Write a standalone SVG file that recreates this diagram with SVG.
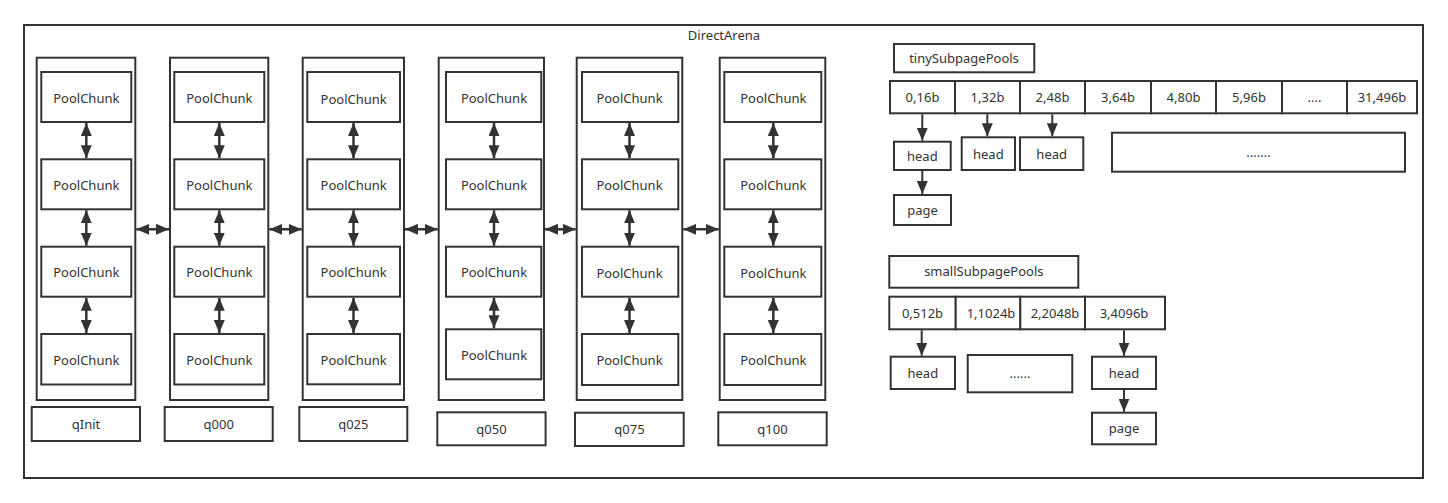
<svg xmlns="http://www.w3.org/2000/svg" width="1448" height="503" viewBox="0 0 1448 503">
<style>
.b{fill:#fff;stroke:#333;stroke-width:2}
.c{fill:none;stroke:#333;stroke-width:2}
.t{font-family:"Noto Sans","Open Sans","DejaVu Sans",sans-serif;font-size:13px;fill:#333;text-anchor:middle}
.dbl{stroke:#333;stroke-width:2.5;fill:none;marker-start:url(#ah);marker-end:url(#ah)}
.one{stroke:#333;stroke-width:2;fill:none;marker-end:url(#ah)}
</style>
<defs>
<marker id="ah" markerUnits="userSpaceOnUse" markerWidth="13" markerHeight="11" refX="13" refY="5.5" orient="auto-start-reverse"><path d="M0,0 L13,5.5 L0,11 z" fill="#333"/></marker>
</defs>
<rect width="1448" height="503" fill="#fff"/>
<g id="frame">
<rect class="c" x="24" y="25" width="1399" height="453"/>
<text class="t" x="724" y="39.5">DirectArena</text>
</g>
<g id="qInit">
<rect class="c" x="36.7" y="57.7" width="98.6" height="342.3"/>
<rect class="b" x="41.3" y="72" width="90" height="50"/><text class="t" x="86.3" y="102.5">PoolChunk</text>
<rect class="b" x="41.3" y="159.3" width="90" height="50"/><text class="t" x="86.3" y="189.5">PoolChunk</text>
<rect class="b" x="41.3" y="246.7" width="90" height="50"/><text class="t" x="86.3" y="277">PoolChunk</text>
<rect class="b" x="41.3" y="334" width="90" height="50.5"/><text class="t" x="86.3" y="364.5">PoolChunk</text>
<rect class="b" x="31.7" y="407" width="108.3" height="34"/><text class="t" x="86" y="428.5">qInit</text>
</g>
<g id="q000">
<rect class="c" x="170" y="57.7" width="98.3" height="342.3"/>
<rect class="b" x="174.3" y="72" width="90" height="50"/><text class="t" x="219.3" y="102.5">PoolChunk</text>
<rect class="b" x="174.3" y="159.3" width="90" height="50"/><text class="t" x="219.3" y="189.5">PoolChunk</text>
<rect class="b" x="174.3" y="246.7" width="90" height="50"/><text class="t" x="219.3" y="277">PoolChunk</text>
<rect class="b" x="174.3" y="334" width="90" height="50.5"/><text class="t" x="219.3" y="364.5">PoolChunk</text>
<rect class="b" x="164.7" y="407" width="108" height="34"/><text class="t" x="218.7" y="428.5">q000</text>
</g>
<g id="q025">
<rect class="c" x="302.7" y="57.7" width="101.3" height="342.3"/>
<rect class="b" x="307.3" y="72" width="92.7" height="50"/><text class="t" x="353.7" y="103.5">PoolChunk</text>
<rect class="b" x="307.3" y="159.3" width="92.7" height="50"/><text class="t" x="353.7" y="189.5">PoolChunk</text>
<rect class="b" x="307.3" y="246.7" width="92.7" height="50"/><text class="t" x="353.7" y="277">PoolChunk</text>
<rect class="b" x="307.3" y="334" width="92.7" height="50.3"/><text class="t" x="353.7" y="364.5">PoolChunk</text>
<rect class="b" x="299.3" y="407" width="108" height="34"/><text class="t" x="353.3" y="428.5">q025</text>
</g>
<g id="q050">
<rect class="c" x="438.7" y="57.7" width="105.3" height="342.3"/>
<rect class="b" x="446" y="72" width="95.3" height="50"/><text class="t" x="494" y="103">PoolChunk</text>
<rect class="b" x="446" y="159.3" width="95.3" height="50"/><text class="t" x="494" y="189.5">PoolChunk</text>
<rect class="b" x="446" y="246.7" width="95.3" height="50"/><text class="t" x="494" y="277">PoolChunk</text>
<rect class="b" x="446" y="329.3" width="95.3" height="50"/><text class="t" x="494" y="360">PoolChunk</text>
<rect class="b" x="437.3" y="412.3" width="108.3" height="33"/><text class="t" x="491.5" y="433.5">q050</text>
</g>
<g id="q075">
<rect class="c" x="576.7" y="57.7" width="105.6" height="342.3"/>
<rect class="b" x="582" y="72" width="96.3" height="50"/><text class="t" x="629.5" y="103">PoolChunk</text>
<rect class="b" x="582" y="159.3" width="96.3" height="50"/><text class="t" x="629.5" y="189.5">PoolChunk</text>
<rect class="b" x="582" y="246.7" width="96.3" height="50"/><text class="t" x="629.5" y="277.5">PoolChunk</text>
<rect class="b" x="582" y="334" width="96.3" height="51"/><text class="t" x="629.5" y="365">PoolChunk</text>
<rect class="b" x="575" y="412.7" width="108.7" height="33.3"/><text class="t" x="629.5" y="434">q075</text>
</g>
<g id="q100">
<rect class="c" x="719.7" y="57.7" width="105.6" height="342.3"/>
<rect class="b" x="724.3" y="72" width="97" height="50"/><text class="t" x="773.3" y="103">PoolChunk</text>
<rect class="b" x="724.3" y="159.3" width="97" height="50"/><text class="t" x="773.3" y="189.5">PoolChunk</text>
<rect class="b" x="724.3" y="246.7" width="97" height="50"/><text class="t" x="773.3" y="277.5">PoolChunk</text>
<rect class="b" x="724.3" y="334" width="97" height="51"/><text class="t" x="773.3" y="365">PoolChunk</text>
<rect class="b" x="718.3" y="412.3" width="108.4" height="33"/><text class="t" x="772.5" y="433.5">q100</text>
</g>
<g id="tinySubpagePools">
<rect class="b" x="894" y="44" width="140.3" height="28.3"/><text class="t" x="964" y="63">tinySubpagePools</text>
<rect class="b" x="890" y="81" width="65" height="32.3"/><text class="t" x="922.5" y="101.5">0,16b</text>
<rect class="b" x="955" y="81" width="65" height="32.3"/><text class="t" x="987.5" y="101.5">1,32b</text>
<rect class="b" x="1020" y="81" width="65" height="32.3"/><text class="t" x="1052.5" y="101.5">2,48b</text>
<rect class="b" x="1085" y="81" width="66" height="32.3"/><text class="t" x="1118" y="101.5">3,64b</text>
<rect class="b" x="1151" y="81" width="65" height="32.3"/><text class="t" x="1183.5" y="101.5">4,80b</text>
<rect class="b" x="1216" y="81" width="66" height="32.3"/><text class="t" x="1249" y="101.5">5,96b</text>
<rect class="b" x="1282" y="81" width="65" height="32.3"/><text class="t" x="1314.5" y="101.5">....</text>
<rect class="b" x="1347" y="81" width="70" height="32.3"/><text class="t" x="1382" y="101.5">31,496b</text>
</g>
<g id="tinyHead0"><rect class="b" x="894" y="141.7" width="56.7" height="28.3"/><text class="t" x="922.3" y="160.5">head</text></g>
<g id="tinyHead1"><rect class="b" x="961.7" y="137.3" width="53.3" height="32.7"/><text class="t" x="988.3" y="158.5">head</text></g>
<g id="tinyHead2"><rect class="b" x="1020" y="137.3" width="63.3" height="32.7"/><text class="t" x="1051.7" y="158.5">head</text></g>
<g id="tinyMore"><rect class="b" x="1112" y="132.7" width="293" height="39"/><text class="t" x="1258.5" y="156.5">.......</text></g>
<g id="tinyPage"><rect class="b" x="894" y="195" width="57" height="30"/><text class="t" x="922.5" y="214.5">page</text></g>
<g id="smallSubpagePools">
<rect class="b" x="889.3" y="256" width="189" height="31.7"/><text class="t" x="983.8" y="276">smallSubpagePools</text>
<rect class="b" x="889.3" y="296.7" width="66.4" height="32.6"/><text class="t" x="922.5" y="317.5">0,512b</text>
<rect class="b" x="955.7" y="296.7" width="64.6" height="32.6"/><text class="t" x="991" y="317.5">1,1024b</text>
<rect class="b" x="1020.3" y="296.7" width="64.7" height="32.6"/><text class="t" x="1055" y="317.5">2,2048b</text>
<rect class="b" x="1085" y="296.7" width="80" height="32.6"/><text class="t" x="1124" y="317.5">3,4096b</text>
</g>
<g id="smallHead0"><rect class="b" x="890.7" y="356.7" width="64.3" height="32.3"/><text class="t" x="922.8" y="377.5">head</text></g>
<g id="smallMore"><rect class="b" x="967.7" y="355" width="104.6" height="37.3"/><text class="t" x="1020" y="378">......</text></g>
<g id="smallHead3"><rect class="b" x="1092" y="356.7" width="64" height="32.3"/><text class="t" x="1124" y="377.5">head</text></g>
<g id="smallPage"><rect class="b" x="1092" y="412.7" width="64" height="31.6"/><text class="t" x="1124" y="433">page</text></g>
<g id="connectors">
<line class="dbl" x1="86.3" y1="123" x2="86.3" y2="158.3"/>
<line class="dbl" x1="86.3" y1="210.3" x2="86.3" y2="245.7"/>
<line class="dbl" x1="86.3" y1="297.7" x2="86.3" y2="333"/>
<line class="dbl" x1="219.3" y1="123" x2="219.3" y2="158.3"/>
<line class="dbl" x1="219.3" y1="210.3" x2="219.3" y2="245.7"/>
<line class="dbl" x1="219.3" y1="297.7" x2="219.3" y2="333"/>
<line class="dbl" x1="353.5" y1="123" x2="353.5" y2="158.3"/>
<line class="dbl" x1="353.5" y1="210.3" x2="353.5" y2="245.7"/>
<line class="dbl" x1="353.5" y1="297.7" x2="353.5" y2="333"/>
<line class="dbl" x1="494" y1="123" x2="494" y2="158.3"/>
<line class="dbl" x1="494" y1="210.3" x2="494" y2="245.7"/>
<line class="dbl" x1="494" y1="297.7" x2="494" y2="328.3"/>
<line class="dbl" x1="629.5" y1="123" x2="629.5" y2="158.3"/>
<line class="dbl" x1="629.5" y1="210.3" x2="629.5" y2="245.7"/>
<line class="dbl" x1="629.5" y1="297.7" x2="629.5" y2="333"/>
<line class="dbl" x1="773.3" y1="123" x2="773.3" y2="158.3"/>
<line class="dbl" x1="773.3" y1="210.3" x2="773.3" y2="245.7"/>
<line class="dbl" x1="773.3" y1="297.7" x2="773.3" y2="333"/>
<line class="dbl" x1="136.3" y1="229.3" x2="169" y2="229.3"/>
<line class="dbl" x1="269.3" y1="229.3" x2="301.7" y2="229.3"/>
<line class="dbl" x1="405" y1="229.3" x2="437.7" y2="229.3"/>
<line class="dbl" x1="545" y1="229.3" x2="575.7" y2="229.3"/>
<line class="dbl" x1="683.3" y1="229.3" x2="718.7" y2="229.3"/>
<line class="one" x1="922.3" y1="114.3" x2="922.3" y2="140.7"/>
<line class="one" x1="987.3" y1="114.3" x2="987.3" y2="136.3"/>
<line class="one" x1="1052.3" y1="114.3" x2="1052.3" y2="136.3"/>
<line class="one" x1="922.3" y1="171" x2="922.3" y2="194"/>
<line class="one" x1="921.7" y1="330.3" x2="921.7" y2="355.7"/>
<line class="one" x1="1124" y1="330.3" x2="1124" y2="355.7"/>
<line class="one" x1="1124" y1="390" x2="1124" y2="411.7"/>
</g>
</svg>
